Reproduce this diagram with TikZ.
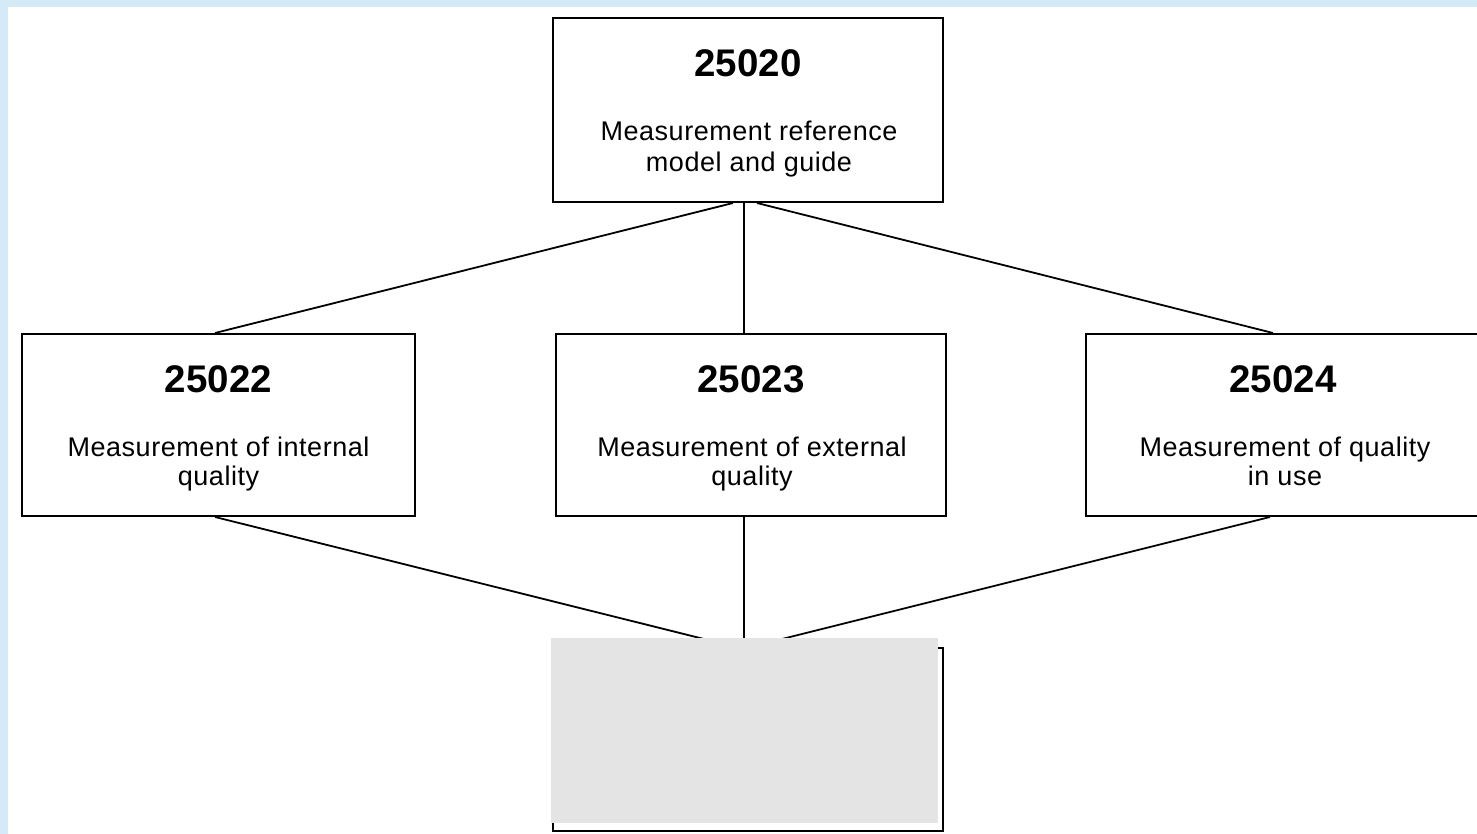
\documentclass[tikz,border=0pt]{standalone}
\usepackage{fontspec}
\setmainfont{Liberation Sans}
\newfontfamily\descfont[LetterSpace=2.0]{Liberation Sans}
\usetikzlibrary{calc}
\definecolor{frameblue}{HTML}{D4EAF6}
\definecolor{covergrey}{HTML}{E4E4E4}
\tikzset{
  stdbox/.style={draw=black, line width=2pt, fill=white, rectangle, inner sep=0pt},
  num/.style={anchor=base, inner sep=0pt, font=\fontsize{38.5}{40}\selectfont\bfseries},
  desc/.style={anchor=base, inner sep=0pt, font=\descfont\fontsize{27}{30}\selectfont},
  link/.style={draw=black, line width=1.8pt}
}
\begin{document}
\begin{tikzpicture}[x=1pt,y=-1pt]
\useasboundingbox (0,0) rectangle (1477,834);
% page frame
\fill[frameblue] (0,0) rectangle (1477,834);
\fill[white] (8,7) rectangle (1477,834);

% boxes
\node[stdbox, minimum width=390pt, minimum height=184pt] (ref)  at (748,110) {};
\node[stdbox, minimum width=393pt, minimum height=182pt] (int)  at (218.5,425) {};
\node[stdbox, minimum width=390pt, minimum height=182pt] (ext)  at (751,425) {};
\node[stdbox, minimum width=393pt, minimum height=182pt] (use)  at (1282.5,425) {};
\node[stdbox, minimum width=390pt, minimum height=183pt] (base) at (748,739.5) {};

% box texts
\node[num]  (ref-n)  at (748,77)  {25020};
\node[desc] (ref-a)  at (749,141) {Measurement reference};
\node[desc] (ref-b)  at (749,172) {model and guide};

\node[num]  (int-n)  at (218.5,392) {25022};
\node[desc] (int-a)  at (218.5,456) {Measurement of internal};
\node[desc] (int-b)  at (218.5,485) {quality};

\node[num]  (ext-n)  at (751,392) {25023};
\node[desc] (ext-a)  at (752,456) {Measurement of external};
\node[desc] (ext-b)  at (752,485) {quality};

\node[num]  (use-n)  at (1283,392) {25024};
\node[desc] (use-a)  at (1285,456) {Measurement of quality};
\node[desc] (use-b)  at (1285,485) {in use};

% connectors
\draw[link] ([xshift=-15pt]ref.south) -- ([xshift=-3.5pt]int.north);
\draw[link] ([xshift=-4pt]ref.south)  -- ([xshift=-7pt]ext.north);
\draw[link] ([xshift=9pt]ref.south)   -- ([xshift=-9.5pt]use.north);

\draw[link] ([xshift=-3.5pt]int.south) -- ([xshift=-12pt]base.north);
\draw[link] ([xshift=-7pt]ext.south)   -- ([xshift=-4pt]base.north);
\draw[link] ([xshift=-12.5pt]use.south) -- ([xshift=2pt]base.north);

% grey cover panel
\fill[covergrey] (551,638) rectangle (938,823);
\end{tikzpicture}
\end{document}
